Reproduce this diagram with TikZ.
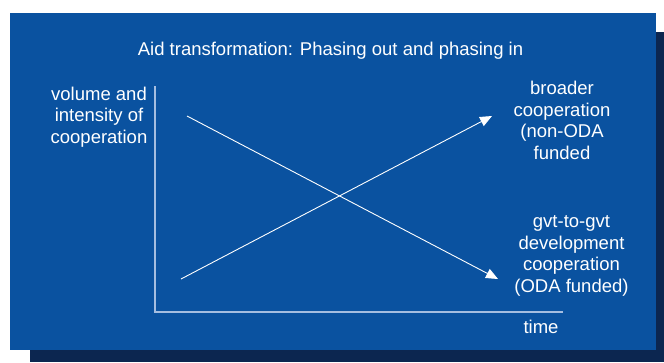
\documentclass[tikz,border=0pt]{standalone}
\usepackage{fontspec}
\setmainfont{Liberation Sans}
\usetikzlibrary{arrows.meta}
\definecolor{bgblue}{RGB}{10,82,160}
\definecolor{shadowblue}{RGB}{12,38,80}
\definecolor{axisblue}{RGB}{165,190,225}
\begin{document}
\begin{tikzpicture}[x=1pt,y=-1pt,
  txt/.style={text=white, font=\fontsize{18.5}{21.5}\selectfont, align=center, inner sep=0pt},
  axisline/.style={draw=axisblue, line width=1.2pt},
  trend/.style={draw=white, line width=0.9pt, -{Triangle[length=12pt,width=10pt]}}]
\useasboundingbox (0,0) rectangle (664,362);
\fill[shadowblue] (30,32) rectangle (664,362);
\fill[bgblue] (10,13) rectangle (656,350);
\coordinate (ytop) at (155,86);
\coordinate (origin) at (155,312);
\coordinate (xend) at (563,312);
\draw[axisline] (ytop) -- (origin) -- (xend);
\node[txt, anchor=base] (title) at (330.5,55) {Aid transformation: Phasing out and phasing in};
\node[txt, anchor=base] (ylabel) at (99,143) {volume and\\intensity of\\cooperation};
\node[txt, anchor=base] (broader) at (562,159) {broader\\cooperation\\(non-ODA\\funded};
\node[txt, anchor=base] (gvt) at (571.5,292) {gvt-to-gvt\\development\\cooperation\\(ODA funded)};
\node[txt, anchor=base] (time) at (541,333) {time};
\coordinate (a1) at (187,116);
\coordinate (a2) at (498,279);
\coordinate (b1) at (181,279);
\coordinate (b2) at (492,116);
\draw[trend] (a1) -- (a2);
\draw[trend] (b1) -- (b2);
\end{tikzpicture}
\end{document}
